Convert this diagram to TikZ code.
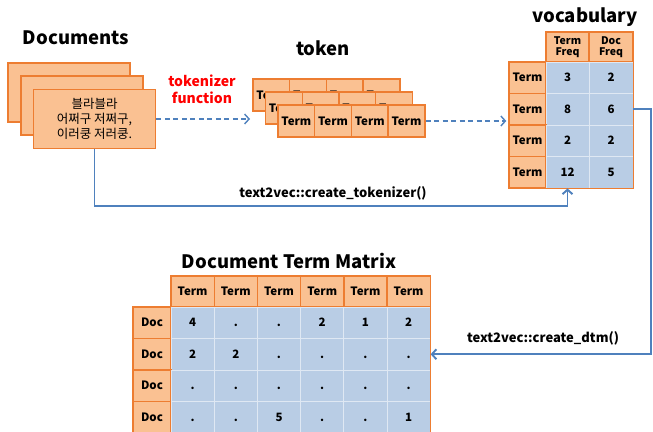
\documentclass[tikz,border=0pt]{standalone}
\usepackage{fontspec}
\setmainfont{Noto Sans CJK KR}
\usepackage{xcolor}
\usepackage{tikz}
\usetikzlibrary{arrows.meta, positioning}
\definecolor{docorange}{RGB}{250,193,146}
\definecolor{edgeorange}{RGB}{237,125,49}
\definecolor{cellblue}{RGB}{185,205,229}
\definecolor{flowblue}{RGB}{79,129,189}

\tikzset{
  docbox/.style={draw=edgeorange, fill=docorange, line width=1.5pt, minimum width=122, minimum height=59, inner sep=0pt},
  orangecell/.style={draw=edgeorange, fill=docorange, line width=1.4pt, inner sep=0pt, text height=8pt, text depth=0pt, font=\bfseries\fontsize{11.5}{12}\selectfont},
  bluecell/.style={draw=white!55!cellblue, fill=cellblue, line width=0.8pt, inner sep=0pt, text height=8pt, text depth=0pt, font=\bfseries\fontsize{11.5}{12}\selectfont},
  heading/.style={font=\bfseries\fontsize{18.5}{20}\selectfont},
  flowlabel/.style={font=\bfseries\fontsize{13}{14}\selectfont},
  flow/.style={draw=flowblue, line width=1.9pt, -{Straight Barb[length=4.5pt, width=10pt]}},
  dashflow/.style={flow, dash pattern=on 5pt off 3.5pt, line width=1.4pt},
}

\begin{document}
\begin{tikzpicture}[x=1pt, y=-1pt]
  \useasboundingbox (0,0) rectangle (653,431);
  \clip (0,0) rectangle (653,431);
  % documents
  \node[heading] (doctitle) at (76,38) {Documents};
  \node[docbox] (doc1) at (69,92.5) {};
  \node[docbox] (doc2) at (82,105.5) {};
  \node[docbox, align=center, font=\fontsize{12.5}{15}\selectfont] (doc3) at (94.5,119) {블라블라\\어쩌구 저쩌구,\\이러쿵 저러쿵.};
  \node[red, font=\bfseries\fontsize{14}{17}\selectfont, align=center] (tokfun) at (202,89) {tokenizer\\function};

  % token, three layers
  \node[heading] (toktitle) at (323,48) {token};
  \foreach \l/\x/\y in {1/253/95, 2/265.5/108, 3/278/121}
    \foreach \i in {1,...,4}
      \node[orangecell, minimum width=36.7, minimum height=32] (tok\l\i) at ({\x+18.35+36.7*(\i-1)},\y) {Term};
  \coordinate (tokin) at (250,119);
  \draw[dashflow] (doc3.east) -- (tokin);

  % vocabulary
  \node[heading] (voctitle) at (585,17) {vocabulary};
  \node[orangecell, minimum width=43, minimum height=30, align=center, text height=, text depth=, font=\bfseries\fontsize{10.5}{11.5}\selectfont] (vh1) at (567.5,47) {Term\\Freq};
  \node[orangecell, minimum width=44, minimum height=30, align=center, text height=, text depth=, font=\bfseries\fontsize{10.5}{11.5}\selectfont] (vh2) at (611,47) {Doc\\Freq};
  \foreach \r/\tf/\df in {1/3/2, 2/8/6, 3/2/2, 4/12/5} {
    \node[orangecell, minimum width=37, minimum height=31.5] (vr\r) at (527.5,{46.25+31.5*\r}) {Term};
    \node[bluecell, minimum width=43, minimum height=31.5] (v\r1) at (567.5,{46.25+31.5*\r}) {\tf};
    \node[bluecell, minimum width=44, minimum height=31.5] (v\r2) at (611,{46.25+31.5*\r}) {\df};
  }
  \draw[edgeorange, line width=1.4pt] (v11.north west) rectangle (v42.south east);
  \draw[dashflow] (tok34.east) -- ([xshift=-2pt]tok34.east -| vr2.west);

  % document term matrix
  \node[heading] (dtmtitle) at (289,261) {Document Term Matrix};
  \foreach \c in {1,...,6}
    \node[orangecell, minimum width=43.2, minimum height=31] (dh\c) at ({149.4+43.2*\c},291.5) {Term};
  \foreach \r/\vals in {1/{4,.,.,2,1,2}, 2/{2,2,.,.,.,.}, 3/{.,.,.,.,.,.}, 4/{.,.,5,.,.,1}} {
    \node[orangecell, minimum width=38, minimum height=31.5] (dr\r) at (152,{291.25+31.5*\r}) {Doc};
    \foreach \v [count=\c] in \vals
      \node[bluecell, minimum width=43.2, minimum height=31.5] (d\r\c) at ({149.4+43.2*\c},{291.25+31.5*\r}) {\v};
  }
  \draw[edgeorange, line width=1.4pt] (d11.north west) rectangle (d46.south east);

  % text2vec calls
  \draw[flow] (doc3.south) -- ++(0,57) -| (v41.south);
  \node[flowlabel] (tokcall) at (333,193) {text2vec::create\_tokenizer()};
  \draw[flow] (v22.east) -- ++(18,0) |- (d26.east);
  \node[flowlabel] (dtmcall) at (543,338) {text2vec::create\_dtm()};
\end{tikzpicture}
\end{document}
